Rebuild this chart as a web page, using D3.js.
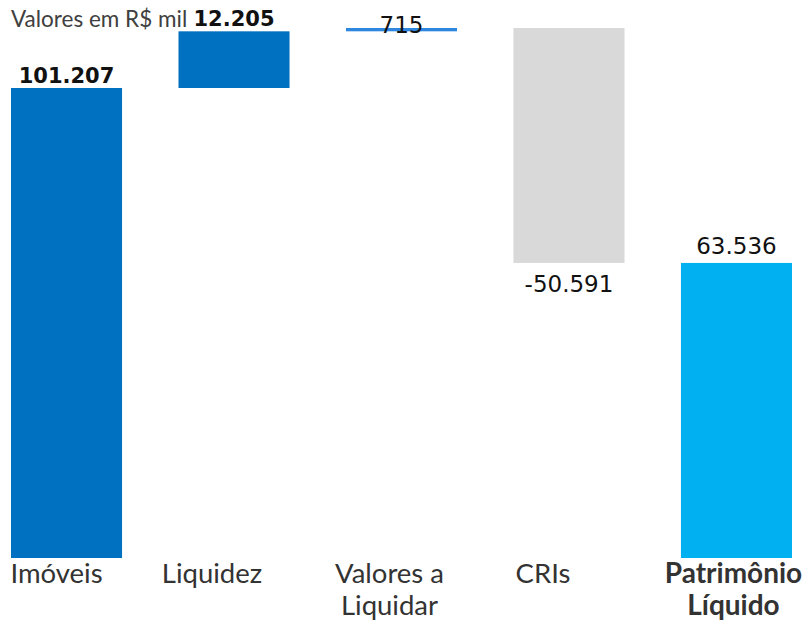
<!DOCTYPE html>
<html>
<head>
	<meta charset="utf-8">
	<style>
		body { margin: 0; background: #fff; }
		text { font-family: Lato, "Open Sans", sans-serif; }
	</style>
	<script src="https://d3js.org/d3.v7.min.js"></script>
</head>
<body>
	<svg id="chart" width="806" height="622"></svg>
<script>
// waterfall data, R$ mil
var categories = ["Imóveis", "Liquidez", "Valores a|Liquidar", "CRIs", "Patrimônio|Líquido"];
var values = [101207, 12205, 715, -50591, 63536];
var labels = ["101.207", "12.205", "715", "-50.591", "63.536"];
var isTotal = [false, false, false, false, true];
var colors = ["#0070C0", "#0070C0", "#2E86DE", "#D9D9D9", "#00B0F0"];

var svg = d3.select("#chart");

// running start / end of each step
var bars = [];
var run = 0;
values.forEach(function(v, i){
	var start, end;
	if (isTotal[i]) { start = 0; end = v; run = v; }
	else { start = run; end = run + v; run = end; }
	bars.push({cat: categories[i], start: start, end: end, v: v, label: labels[i], color: colors[i], i: i});
});

var x = d3.scaleBand()
	.domain(categories)
	.range([11, 792])
	.paddingInner(0.337)
	.paddingOuter(0);

var y = d3.scaleLinear()
	.domain([0, 114127])
	.range([558, 28]);

svg.append("text")
	.attr("x", 11)
	.attr("y", 27)
	.style("font-size", "22.5px")
	.style("fill", "#404040")
	.text("Valores em R$ mil");

svg.selectAll("rect.bar").data(bars)
	.enter()
	.append("rect")
	.attr("class", "bar")
	.attr("x", d => x(d.cat))
	.attr("width", x.bandwidth())
	.attr("y", d => y(Math.max(d.start, d.end)))
	.attr("height", d => Math.max(2, Math.abs(y(d.start) - y(d.end))))
	.attr("fill", d => d.color);

// value labels: above the top for rises, below the bottom for falls
svg.selectAll("text.val").data(bars)
	.enter()
	.append("text")
	.attr("class", "val")
	.attr("x", d => x(d.cat) + x.bandwidth() / 2)
	.attr("y", function(d){
		if (d.v < 0) return y(d.end) + 29;
		if (d.i == 2) return y(d.end) + 5;
		if (isTotal[d.i]) return y(d.end) - 9;
		return y(d.end) - 5;
	})
	.attr("text-anchor", "middle")
	.style("font-family", "'DejaVu Sans', sans-serif")
	.style("font-size", d => d.i < 2 ? "21px" : "23px")
	.style("font-weight", d => d.i < 2 ? "bold" : "normal")
	.style("fill", "#111")
	.text(d => d.label);

// category labels sit a bit left of the bar centre, like the excel original
var nudge = [-10, -22, -12, -26, -3];

var cats = svg.selectAll("text.cat").data(bars)
	.enter()
	.append("text")
	.attr("class", "cat")
	.attr("text-anchor", "middle")
	.attr("y", 583)
	.style("font-size", d => isTotal[d.i] ? "28px" : "27.5px")
	.style("font-weight", d => isTotal[d.i] ? "bold" : "normal")
	.style("fill", "#333");

cats.each(function(d){
	var parts = d.cat.split("|");
	var t = d3.select(this);
	parts.forEach(function(p, k){
		t.append("tspan")
			.attr("x", x(d.cat) + x.bandwidth() / 2 + nudge[d.i])
			.attr("dy", k == 0 ? 0 : 32)
			.text(p);
	});
});
</script>
</body>
</html>
